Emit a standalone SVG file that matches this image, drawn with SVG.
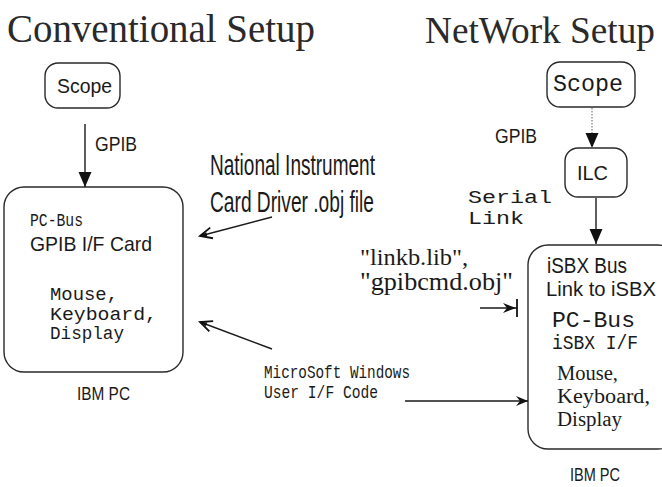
<svg xmlns="http://www.w3.org/2000/svg" width="662" height="487" viewBox="0 0 662 487">
<defs>
<style>
.bg{fill:#fff}
.box{fill:none;stroke:#2a2a2a;stroke-width:1.4}
.ln{fill:none;stroke:#1a1a1a;stroke-width:1.4}
.dot{fill:none;stroke:#777;stroke-width:1.2;stroke-dasharray:1.5 1.5}
text{fill:#1a1a1a}
.title{font-family:"Liberation Serif",serif;font-size:40px;fill:#2a2a2a}
.sans{font-family:"Liberation Sans Narrow","Liberation Sans",sans-serif;font-size:21px}
.mono{font-family:"Liberation Mono",monospace;font-size:21px}
.serif{font-family:"Liberation Serif",serif;font-size:23px}
</style>
<marker id="tri" markerUnits="userSpaceOnUse" markerWidth="16" markerHeight="14" refX="15" refY="6.5" orient="auto" overflow="visible">
<path d="M0,0 L15,6.5 L0,13 z" fill="#111"/>
</marker>
<marker id="barb" markerUnits="userSpaceOnUse" markerWidth="14" markerHeight="12" refX="13" refY="5.5" orient="auto" overflow="visible">
<path d="M1,0 L13,5.5 L1,11" fill="none" stroke="#111" stroke-width="1.8"/>
<path d="M6,3.5 L13,5.5 L6,7.5 z" fill="#111"/>
</marker>
<marker id="conc" markerUnits="userSpaceOnUse" markerWidth="14" markerHeight="12" refX="12" refY="5" orient="auto" overflow="visible">
<path d="M0,0 L12,5 L0,10 L4,5 z" fill="#111"/>
</marker>
<marker id="barhead" markerUnits="userSpaceOnUse" markerWidth="16" markerHeight="20" refX="14" refY="9" orient="auto" overflow="visible">
<path d="M0,4 L13,9 L0,14 L4,9 z" fill="#111"/>
<path d="M14,0 L14,18" stroke="#111" stroke-width="1.8"/>
</marker>
</defs>
<rect class="bg" x="0" y="0" width="662" height="487"/>

<g id="titles">
<text class="title" x="7" y="42" textLength="308" lengthAdjust="spacingAndGlyphs">Conventional Setup</text>
<text class="title" x="425" y="43" style="font-size:38px" textLength="230" lengthAdjust="spacingAndGlyphs">NetWork Setup</text>
</g>

<g id="scope-left">
<rect class="box" x="45" y="63" width="75" height="45" rx="13"/>
<text class="sans" x="57" y="93" textLength="55" lengthAdjust="spacingAndGlyphs">Scope</text>
</g>

<g id="pc-left">
<rect class="box" x="4" y="187" width="179" height="185" rx="20"/>
<text class="mono" x="30" y="226" style="font-size:18px" textLength="53" lengthAdjust="spacingAndGlyphs">PC-Bus</text>
<text class="sans" x="30" y="251" textLength="122" lengthAdjust="spacingAndGlyphs">GPIB I/F Card</text>
<text class="mono" x="50" y="300" style="font-size:18px" textLength="68" lengthAdjust="spacingAndGlyphs">Mouse,</text>
<text class="mono" x="50" y="319.5" style="font-size:18px" textLength="107" lengthAdjust="spacingAndGlyphs">Keyboard,</text>
<text class="mono" x="50" y="339" style="font-size:18px" textLength="74" lengthAdjust="spacingAndGlyphs">Display</text>
</g>
<text id="ibm-left" class="sans" x="77" y="400" style="font-size:18px" textLength="53" lengthAdjust="spacingAndGlyphs">IBM PC</text>

<g id="scope-right">
<rect class="box" x="547" y="62" width="88" height="45" rx="13"/>
<text class="mono" x="553" y="91" style="font-size:23px" textLength="70" lengthAdjust="spacingAndGlyphs">Scope</text>
</g>

<g id="ilc">
<rect class="box" x="565" y="148" width="62" height="49" rx="13"/>
<text class="sans" x="577" y="180" textLength="31" lengthAdjust="spacingAndGlyphs">ILC</text>
</g>

<g id="pc-right">
<rect class="box" x="528" y="245" width="150" height="204" rx="20"/>
<text class="sans" x="547" y="273" style="font-size:22px" textLength="80" lengthAdjust="spacingAndGlyphs">iSBX Bus</text>
<text class="sans" x="546" y="296" style="font-size:20.5px" textLength="110" lengthAdjust="spacingAndGlyphs">Link to iSBX</text>
<text class="mono" x="552" y="327" style="font-size:22px" textLength="83" lengthAdjust="spacingAndGlyphs">PC-Bus</text>
<text class="mono" x="552" y="349" style="font-size:20px" textLength="86" lengthAdjust="spacingAndGlyphs">iSBX I/F</text>
<text class="serif" x="557" y="380" style="font-size:20px" textLength="61" lengthAdjust="spacingAndGlyphs">Mouse,</text>
<text class="serif" x="557" y="403" style="font-size:20px" textLength="93" lengthAdjust="spacingAndGlyphs">Keyboard,</text>
<text class="serif" x="557" y="426" style="font-size:20px" textLength="65" lengthAdjust="spacingAndGlyphs">Display</text>
</g>
<text id="ibm-right" class="sans" x="570" y="481" style="font-size:18px" textLength="50" lengthAdjust="spacingAndGlyphs">IBM PC</text>

<g id="labels">
<text class="sans" x="95" y="151" textLength="42" lengthAdjust="spacingAndGlyphs">GPIB</text>
<text class="sans" x="495" y="143" textLength="42" lengthAdjust="spacingAndGlyphs">GPIB</text>
<text class="mono" x="468" y="202.5" style="font-size:17.5px" textLength="84" lengthAdjust="spacingAndGlyphs">Serial</text>
<text class="mono" x="468" y="223.5" style="font-size:17.5px" textLength="56" lengthAdjust="spacingAndGlyphs">Link</text>
<text class="sans" x="210" y="175" style="font-size:29px" textLength="165" lengthAdjust="spacingAndGlyphs">National Instrument</text>
<text class="sans" x="210" y="212" style="font-size:29px" textLength="164" lengthAdjust="spacingAndGlyphs">Card Driver .obj file</text>
<text class="serif" x="360" y="265" style="font-size:24px" textLength="108" lengthAdjust="spacingAndGlyphs">"linkb.lib",</text>
<text class="serif" x="360" y="290" style="font-size:25px" textLength="153" lengthAdjust="spacingAndGlyphs">"gpibcmd.obj"</text>
<text class="mono" x="264" y="378" style="font-size:18px" textLength="146" lengthAdjust="spacingAndGlyphs">MicroSoft Windows</text>
<text class="mono" x="264" y="398" style="font-size:18px" textLength="114" lengthAdjust="spacingAndGlyphs">User I/F Code</text>
</g>

<g id="connectors">
<line class="ln" x1="85" y1="124" x2="85" y2="187" marker-end="url(#tri)"/>
<line class="dot" x1="592" y1="108" x2="592" y2="148" marker-end="url(#tri)"/>
<line class="ln" x1="596" y1="198" x2="596" y2="244" marker-end="url(#tri)"/>
<line class="ln" x1="272" y1="217" x2="200" y2="236" marker-end="url(#barb)"/>
<line class="ln" x1="272" y1="349" x2="200" y2="322" marker-end="url(#barb)"/>
<line class="ln" x1="480" y1="308" x2="517" y2="308" marker-end="url(#barhead)"/>
<line class="ln" x1="405" y1="401" x2="528" y2="401" marker-end="url(#conc)"/>
</g>
</svg>
